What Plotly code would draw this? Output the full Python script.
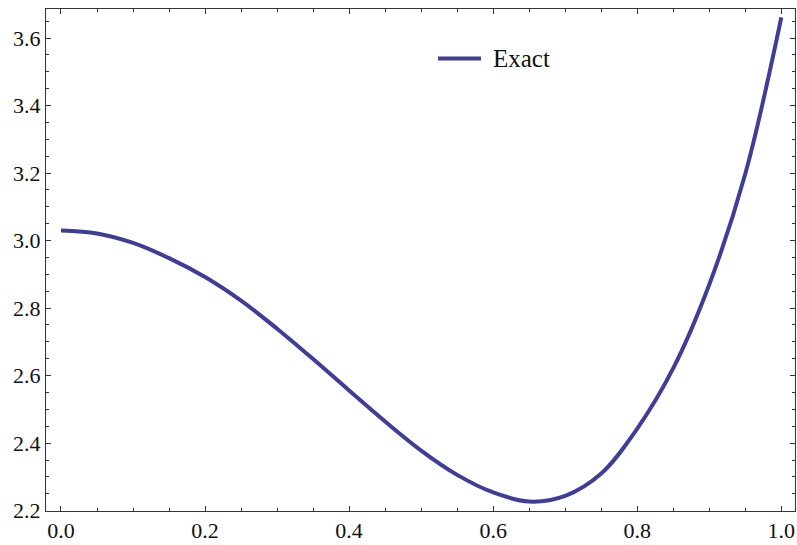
import plotly.graph_objects as go

x_vals = [0.0, 0.05, 0.1, 0.15, 0.2, 0.25, 0.3, 0.35, 0.4, 0.45, 0.5, 0.55, 0.6, 0.65, 0.7, 0.75, 0.8, 0.85, 0.9, 0.95, 1.0]
y_exact = [3.030, 3.021, 2.993, 2.948, 2.892, 2.822, 2.739, 2.649, 2.556, 2.464, 2.378, 2.306, 2.254, 2.227, 2.244, 2.310, 2.443, 2.622, 2.870, 3.198, 3.661]
x_ticks = [0.0, 0.2, 0.4, 0.6, 0.8, 1.0]
y_ticks = [2.2, 2.4, 2.6, 2.8, 3.0, 3.2, 3.4, 3.6]
x_tick_text = ["0.0", "0.2", "0.4", "0.6", "0.8", "1.0"]
y_tick_text = ["2.2", "2.4", "2.6", "2.8", "3.0", "3.2", "3.4", "3.6"]
legend_label = "Exact"

color = "#3e3d98"
font = "Liberation Serif"

fig = go.Figure()
fig.add_trace(go.Scatter(x=x_vals, y=y_exact, mode="lines", name=legend_label,
                         line=dict(color=color, width=4, shape="spline", smoothing=1.0),
                         showlegend=False))

axis_common = dict(showline=True, linecolor="#333333", linewidth=1, mirror="allticks",
                   ticks="inside", tickcolor="#333333", ticklen=5, tickwidth=1,
                   showgrid=False, zeroline=False,
                   tickfont=dict(family=font, size=22, color="#111111"))

# legend drawn as a short line + label (paper coordinates)
fig.add_shape(type="line", xref="paper", yref="paper", x0=0.5234, x1=0.5808, y0=0.9013, y1=0.9013,
              line=dict(color=color, width=4))
fig.add_annotation(text=legend_label, xref="paper", yref="paper", x=0.5941, y=0.9013,
                   xanchor="left", yanchor="middle", showarrow=False,
                   font=dict(family=font, size=25, color="#111111"))

fig.update_layout(
    width=797, height=545,
    margin=dict(l=46, r=2, t=9, b=34),
    font=dict(family=font, size=22, color="#111111"),
    plot_bgcolor="white", paper_bgcolor="white",
    showlegend=False,
    xaxis=dict(range=[-0.0208, 1.019], tickvals=x_ticks, ticktext=x_tick_text,
               minor=dict(dtick=0.05, ticks="inside", ticklen=3, tickcolor="#333333"),
               **axis_common),
    yaxis=dict(range=[2.199, 3.686], tickvals=y_ticks, ticktext=y_tick_text,
               minor=dict(dtick=0.05, ticks="inside", ticklen=3, tickcolor="#333333"),
               **axis_common),
)

fig.write_html("out.html", config={"displayModeBar": False},
               post_script="document.body.style.margin='0';document.body.style.overflow='hidden';")
